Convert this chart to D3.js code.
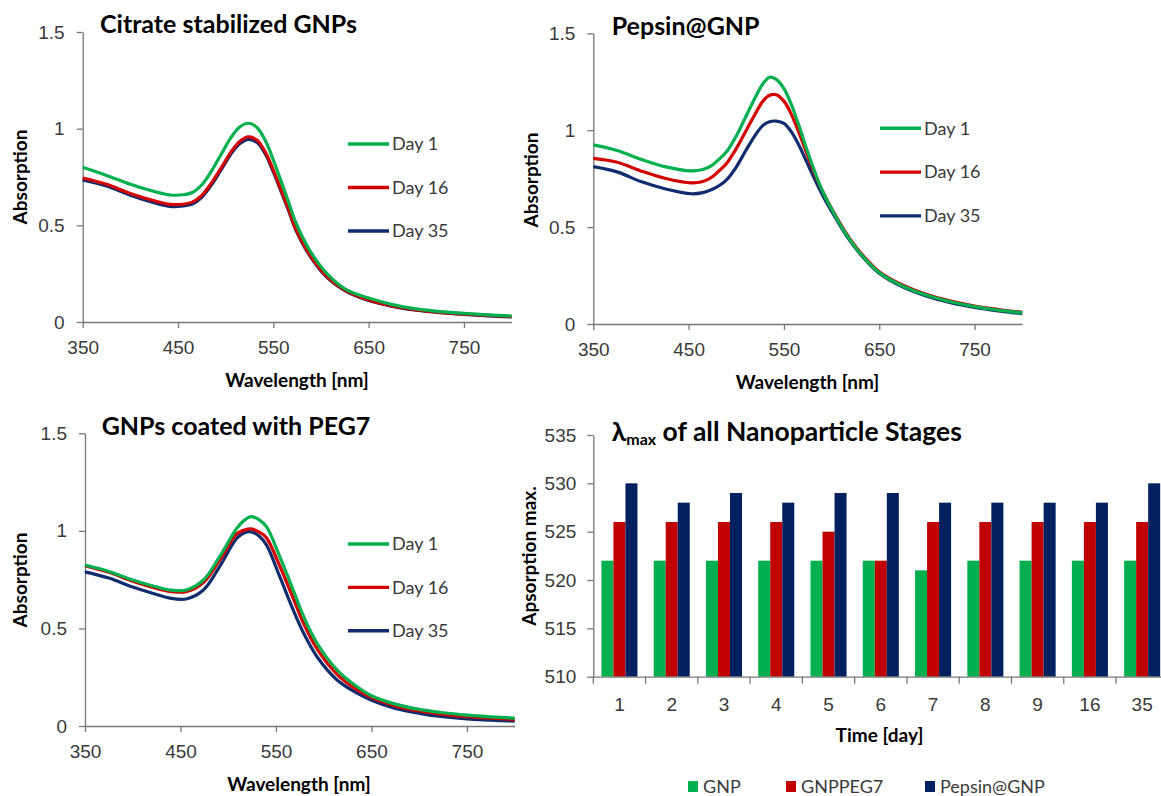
<!DOCTYPE html>
<html>
<head>
<meta charset="utf-8">
<script src="https://cdn.jsdelivr.net/npm/d3@7"></script>
<style>
  html, body { margin: 0; padding: 0; background: #ffffff; }
  svg { display: block; font-family: "Lato", "Open Sans", sans-serif; }
</style>
</head>
<body>
<svg id="fig" width="1161" height="796"></svg>
<script>
// ---------- UV-Vis spectra: citrate stabilized GNPs ----------
const citrateNm = [350, 375, 400, 425, 442, 455, 465, 475, 485, 495, 505, 515, 524, 533, 542, 550, 558, 566, 574, 588, 606, 627, 650, 675, 700, 725, 750, 775, 800];
const citrateDay1  = [0.800, 0.758, 0.712, 0.675, 0.657, 0.658, 0.670, 0.710, 0.780, 0.865, 0.950, 1.010, 1.028, 1.005, 0.935, 0.838, 0.730, 0.620, 0.510, 0.372, 0.252, 0.166, 0.124, 0.090, 0.068, 0.054, 0.045, 0.037, 0.031];
const citrateDay16 = [0.745, 0.712, 0.665, 0.627, 0.608, 0.609, 0.620, 0.655, 0.718, 0.795, 0.875, 0.935, 0.958, 0.940, 0.875, 0.785, 0.685, 0.583, 0.478, 0.350, 0.236, 0.160, 0.114, 0.083, 0.063, 0.050, 0.041, 0.034, 0.028];
const citrateDay35 = [0.735, 0.703, 0.656, 0.617, 0.598, 0.600, 0.610, 0.645, 0.708, 0.785, 0.865, 0.923, 0.945, 0.928, 0.865, 0.776, 0.677, 0.576, 0.472, 0.345, 0.232, 0.157, 0.111, 0.081, 0.061, 0.048, 0.039, 0.032, 0.026];

// ---------- UV-Vis spectra: Pepsin@GNP ----------
const pepsinNm = [350, 375, 400, 425, 453, 465, 475, 483, 490, 500, 510, 520, 528, 535, 542, 550, 558, 566, 574, 582, 590, 602, 615, 630, 650, 675, 700, 725, 750, 775, 800];
const pepsinDay1  = [0.924, 0.895, 0.850, 0.812, 0.790, 0.797, 0.820, 0.855, 0.890, 0.970, 1.070, 1.170, 1.240, 1.273, 1.262, 1.215, 1.130, 1.020, 0.900, 0.790, 0.690, 0.575, 0.465, 0.365, 0.265, 0.195, 0.148, 0.115, 0.090, 0.072, 0.058];
const pepsinDay16 = [0.855, 0.835, 0.790, 0.752, 0.728, 0.735, 0.760, 0.795, 0.830, 0.905, 0.995, 1.085, 1.150, 1.180, 1.183, 1.150, 1.080, 0.985, 0.880, 0.780, 0.690, 0.578, 0.470, 0.370, 0.270, 0.200, 0.152, 0.118, 0.093, 0.075, 0.060];
const pepsinDay35 = [0.812, 0.785, 0.735, 0.698, 0.672, 0.678, 0.695, 0.717, 0.745, 0.810, 0.895, 0.975, 1.025, 1.044, 1.047, 1.035, 0.990, 0.920, 0.835, 0.750, 0.670, 0.565, 0.460, 0.362, 0.262, 0.190, 0.143, 0.110, 0.086, 0.068, 0.053];

// ---------- UV-Vis spectra: GNPs coated with PEG7 ----------
const pegNm = [350, 375, 400, 425, 439, 456, 474, 491, 509, 517, 524, 532, 540, 554, 568, 579, 593, 614, 635, 650, 675, 700, 725, 750, 775, 800];
const pegDay1  = [0.825, 0.792, 0.748, 0.712, 0.697, 0.697, 0.748, 0.868, 1.013, 1.055, 1.073, 1.058, 1.022, 0.868, 0.697, 0.560, 0.424, 0.287, 0.201, 0.155, 0.112, 0.085, 0.068, 0.056, 0.047, 0.040];
const pegDay16 = [0.822, 0.788, 0.742, 0.705, 0.690, 0.688, 0.735, 0.850, 0.985, 1.004, 1.010, 0.995, 0.965, 0.820, 0.655, 0.525, 0.395, 0.265, 0.185, 0.146, 0.103, 0.077, 0.060, 0.048, 0.040, 0.034];
const pegDay35 = [0.790, 0.758, 0.712, 0.674, 0.655, 0.651, 0.697, 0.817, 0.962, 0.990, 0.995, 0.975, 0.928, 0.765, 0.595, 0.475, 0.355, 0.236, 0.168, 0.132, 0.090, 0.065, 0.048, 0.036, 0.030, 0.025];

const dayLabels = ["Day 1", "Day 16", "Day 35"];
const absTicks = [0, 0.5, 1, 1.5];
const nmTicks = [350, 450, 550, 650, 750];

// ---------- lambda max of all nanoparticle stages ----------
const days = ["1", "2", "3", "4", "5", "6", "7", "8", "9", "16", "35"];
const gnpMax     = [522, 522, 522, 522, 522, 522, 521, 522, 522, 522, 522];
const gnpPeg7Max = [526, 526, 526, 526, 525, 522, 526, 526, 526, 526, 526];
const pepsinMax  = [530, 528, 529, 528, 529, 529, 528, 528, 528, 528, 530];
const stageNames = ["GNP", "GNPPEG7", "Pepsin@GNP"];
const lambdaTicks = [510, 515, 520, 525, 530, 535];

const lineColors = ["#00b050", "#d40000", "#0f2d6e"];
const barColors  = ["#00b050", "#c00000", "#002060"];
const axisColor = "#777777";
const textColor = "#3a3a3a";
const tickFont = "19px";
const labelFont = "19px";
const titleFont = "25px";

const svg = d3.select("#fig");

function styleAxis(sel) {
  sel.select(".domain").attr("stroke", axisColor).attr("stroke-width", 1.3);
  sel.selectAll(".tick line").attr("stroke", axisColor).attr("stroke-width", 1.3);
  sel.selectAll(".tick text").attr("fill", textColor).style("font-size", tickFont);
}

function drawSpectra(cfg) {
  const g = svg.append("g");
  const x = d3.scaleLinear().domain([350, 800]).range([cfg.left, cfg.right]);
  const y = d3.scaleLinear().domain([0, 1.5]).range([cfg.bottom, cfg.top]);

  const yAxis = g.append("g")
    .attr("transform", `translate(${cfg.left},0)`)
    .call(d3.axisLeft(y).tickValues(absTicks).tickFormat(d => String(d))
      .tickSize(6).tickSizeOuter(0).tickPadding(12));
  styleAxis(yAxis);

  const xAxis = g.append("g")
    .attr("transform", `translate(0,${cfg.bottom})`)
    .call(d3.axisBottom(x).tickValues(nmTicks).tickFormat(d => String(d))
      .tickSize(6).tickSizeOuter(0).tickPadding(10));
  styleAxis(xAxis);
  xAxis.selectAll(".tick text").attr("dy", "0.85em");

  const line = d3.line()
    .x(d => x(d[0]))
    .y(d => y(d[1]))
    .curve(d3.curveCatmullRom.alpha(0.5));

  // Day 1 drawn last so the top curve sits above the others
  [2, 1, 0].forEach(i => {
    const pts = cfg.nm.map((w, k) => [w, cfg.series[i][k]]);
    g.append("path")
      .datum(pts)
      .attr("fill", "none")
      .attr("stroke", lineColors[i])
      .attr("stroke-width", 3.2)
      .attr("stroke-linejoin", "round")
      .attr("d", line);
  });

  // legend
  dayLabels.forEach((lab, i) => {
    const ly = cfg.legendY + i * cfg.legendGap;
    g.append("line")
      .attr("x1", cfg.legendX).attr("x2", cfg.legendX + 41)
      .attr("y1", ly).attr("y2", ly)
      .attr("stroke", lineColors[i]).attr("stroke-width", 3.4);
    g.append("text")
      .attr("x", cfg.legendX + 44).attr("y", ly)
      .attr("dy", "0.35em")
      .attr("fill", textColor)
      .style("font-size", "18px")
      .text(lab);
  });

  g.append("text")
    .attr("x", cfg.titleX).attr("y", cfg.titleY)
    .style("font-size", titleFont).style("font-weight", "bold")
    .attr("fill", "#000")
    .text(cfg.title);

  g.append("text")
    .attr("transform", `translate(${cfg.yLabelX},${cfg.yLabelY}) rotate(-90)`)
    .attr("text-anchor", "middle")
    .style("font-size", labelFont).style("font-weight", "bold")
    .attr("fill", "#000")
    .text("Absorption");

  g.append("text")
    .attr("x", cfg.xLabelX).attr("y", cfg.xLabelY)
    .attr("text-anchor", "middle")
    .style("font-size", labelFont).style("font-weight", "bold")
    .attr("fill", "#000")
    .text("Wavelength [nm]");
}

drawSpectra({
  left: 82.7, right: 511.6, top: 32, bottom: 322,
  nm: citrateNm, series: [citrateDay1, citrateDay16, citrateDay35],
  legendX: 348, legendY: 144, legendGap: 43.5,
  title: "Citrate stabilized GNPs", titleX: 100, titleY: 33,
  yLabelX: 27, yLabelY: 177, xLabelX: 297, xLabelY: 387
});

drawSpectra({
  left: 593.3, right: 1022.2, top: 33.3, bottom: 324,
  nm: pepsinNm, series: [pepsinDay1, pepsinDay16, pepsinDay35],
  legendX: 880, legendY: 128.3, legendGap: 43.8,
  title: "Pepsin@GNP", titleX: 611.7, titleY: 35,
  yLabelX: 538, yLabelY: 180, xLabelX: 807.5, xLabelY: 389
});

drawSpectra({
  left: 85, right: 514.7, top: 433.3, bottom: 726,
  nm: pegNm, series: [pegDay1, pegDay16, pegDay35],
  legendX: 348, legendY: 544, legendGap: 43.4,
  title: "GNPs coated with PEG7", titleX: 101.7, titleY: 435,
  yLabelX: 27, yLabelY: 580, xLabelX: 299, xLabelY: 791
});

// ---------- grouped bar chart ----------
(function drawBars() {
  const g = svg.append("g");
  const left = 593.3, right = 1168.3, top = 435, bottom = 676.7;
  const x = d3.scaleBand().domain(days).range([left, right]).paddingInner(0).paddingOuter(0);
  const xs = d3.scaleBand().domain(stageNames).range([0, x.bandwidth()])
    .paddingInner(0).paddingOuter(0.675);
  const y = d3.scaleLinear().domain([510, 535]).range([bottom, top]);

  const values = [gnpMax, gnpPeg7Max, pepsinMax];

  days.forEach((day, di) => {
    stageNames.forEach((name, si) => {
      const v = values[si][di];
      g.append("rect")
        .attr("x", x(day) + xs(name))
        .attr("y", y(v))
        .attr("width", xs.bandwidth())
        .attr("height", y(510) - y(v))
        .attr("fill", barColors[si]);
    });
  });

  const yAxis = g.append("g")
    .attr("transform", `translate(${left},0)`)
    .call(d3.axisLeft(y).tickValues(lambdaTicks).tickSize(6).tickSizeOuter(0).tickPadding(11));
  styleAxis(yAxis);

  const xAxis = g.append("g")
    .attr("transform", `translate(0,${bottom})`)
    .call(d3.axisBottom(x).tickSize(0).tickSizeOuter(0).tickPadding(21));
  styleAxis(xAxis);
  xAxis.selectAll(".tick text").attr("dy", "0.71em");

  // category separators below the baseline
  const bounds = days.map(d => x(d)).concat([x(days[days.length - 1]) + x.bandwidth()]);
  g.selectAll("line.sep").data(bounds).enter().append("line")
    .attr("class", "sep")
    .attr("x1", d => d).attr("x2", d => d)
    .attr("y1", bottom).attr("y2", bottom + 7)
    .attr("stroke", axisColor).attr("stroke-width", 1.3);

  // title with subscript
  const t = g.append("text")
    .attr("x", 611.7).attr("y", 441)
    .style("font-size", "26.5px").style("font-weight", "bold")
    .attr("fill", "#000");
  t.append("tspan").text("λ");
  t.append("tspan").attr("dy", 4).style("font-size", "16px").text("max");
  t.append("tspan").attr("dy", -4).text(" of all Nanoparticle Stages");

  g.append("text")
    .attr("transform", `translate(536,556) rotate(-90)`)
    .attr("text-anchor", "middle")
    .style("font-size", labelFont).style("font-weight", "bold")
    .attr("fill", "#000")
    .text("Apsorption max.");

  g.append("text")
    .attr("x", 879.5).attr("y", 742)
    .attr("text-anchor", "middle")
    .style("font-size", labelFont).style("font-weight", "bold")
    .attr("fill", "#000")
    .text("Time [day]");

  // legend
  const legendX = [688, 786, 925];
  stageNames.forEach((name, i) => {
    g.append("rect")
      .attr("x", legendX[i]).attr("y", 781)
      .attr("width", 10).attr("height", 11)
      .attr("fill", barColors[i]);
    g.append("text")
      .attr("x", legendX[i] + 15).attr("y", 786.5)
      .attr("dy", "0.35em")
      .attr("fill", textColor)
      .style("font-size", "18px")
      .text(name);
  });
})();
</script>
</body>
</html>
